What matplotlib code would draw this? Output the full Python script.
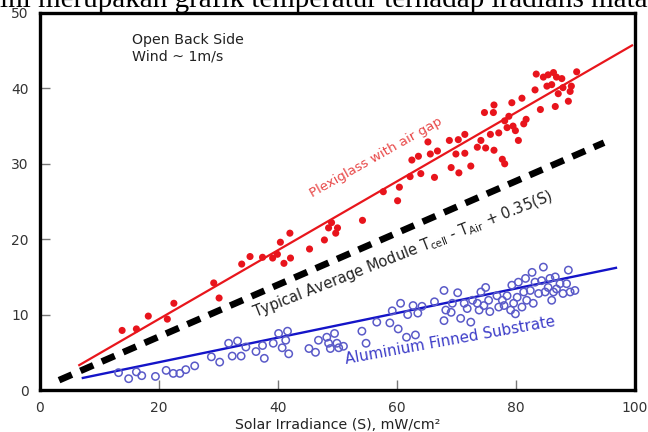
import matplotlib
matplotlib.use("Agg")
import matplotlib.pyplot as plt

plt.rcParams['font.family'] = ['DejaVu Sans']
plt.rcParams['mathtext.default'] = 'regular'

# plexiglass with air gap (filled red dots)
red_x = [13.8, 16.2, 18.2, 21.4, 22.5, 29.2, 30.1, 33.9, 35.3, 37.4,
         39.1, 39.9, 40.4, 41.0, 42.0, 42.1, 45.3, 47.8, 48.5, 49.0,
         49.7, 50.0, 54.2, 57.7, 60.1, 60.4, 62.2, 62.5, 63.6, 64.0,
         65.2, 65.6, 66.3, 66.8, 68.8, 69.1, 69.9, 70.3, 70.4, 71.4,
         71.4, 72.4, 73.5, 74.1, 74.7, 74.9, 75.7, 76.2, 76.3, 76.3,
         77.1, 77.7, 78.1, 78.1, 78.5, 78.8, 79.3, 79.5, 79.9, 80.4,
         81.0, 81.3, 81.7, 83.2, 83.4, 84.1, 84.6, 85.2, 85.4, 86.0,
         86.3, 86.6, 86.8, 87.1, 87.7, 87.9, 88.8, 89.1, 89.3, 90.2]
red_y = [7.9, 8.1, 9.8, 9.4, 11.5, 14.2, 12.2, 16.7, 17.7, 17.6,
         17.5, 18.0, 19.6, 16.8, 20.8, 17.5, 18.7, 19.9, 21.5, 22.2,
         20.8, 21.5, 22.5, 26.3, 25.1, 26.9, 28.3, 30.5, 31.0, 28.7,
         32.9, 31.3, 28.2, 31.7, 33.1, 29.5, 31.3, 33.2, 28.8, 33.9,
         31.4, 29.7, 32.2, 33.1, 36.8, 32.1, 33.9, 36.8, 37.8, 31.8,
         34.1, 30.6, 30.0, 35.7, 34.8, 36.3, 38.1, 35.0, 34.4, 33.1,
         38.7, 35.3, 35.9, 39.8, 41.9, 37.2, 41.5, 40.3, 41.8, 40.5,
         42.1, 37.6, 41.5, 39.3, 41.3, 40.1, 38.3, 39.6, 40.3, 42.2]

# aluminium finned substrate (open blue circles)
blue_x = [13.2, 14.9, 16.2, 17.1, 19.4, 21.2, 22.4, 23.5, 24.5, 26.0,
          28.8, 30.2, 31.7, 32.3, 33.2, 33.8, 34.6, 36.3, 37.4, 37.7,
          39.2, 40.1, 40.7, 41.3, 41.6, 41.8, 45.2, 46.3, 46.8, 48.2,
          48.5, 48.8, 49.5, 49.9, 50.2, 51.0, 54.1, 54.8, 56.6, 58.8,
          59.2, 60.2, 60.6, 61.6, 61.8, 62.7, 63.1, 63.5, 64.2, 66.3,
          67.9, 67.9, 68.2, 69.1, 69.3, 70.2, 70.7, 71.3, 71.8, 72.4,
          72.7, 73.5, 73.8, 74.1, 74.6, 74.9, 75.4, 75.6, 76.8, 77.1,
          77.7, 78.0, 78.5, 79.1, 79.3, 79.6, 79.9, 80.2, 80.4, 81.0,
          81.3, 81.6, 81.8, 82.4, 82.7, 82.9, 83.2, 83.8, 84.3, 84.6,
          84.9, 85.4, 85.7, 86.0, 86.3, 86.6, 86.8, 87.4, 87.9, 88.5,
          88.8, 89.1, 89.9]
blue_y = [2.3, 1.5, 2.4, 1.9, 1.8, 2.6, 2.2, 2.2, 2.7, 3.2,
          4.4, 3.7, 6.2, 4.5, 6.5, 4.5, 5.7, 5.1, 5.9, 4.2,
          6.2, 7.5, 5.6, 6.6, 7.8, 4.8, 5.5, 5.0, 6.6, 7.0,
          6.2, 5.5, 7.5, 6.2, 5.6, 5.8, 7.8, 6.2, 9.0, 8.9,
          10.5, 8.1, 11.5, 7.0, 10.0, 11.2, 7.3, 10.2, 11.1, 11.7,
          13.2, 9.2, 10.6, 10.3, 11.5, 12.9, 9.5, 11.5, 10.8, 9.0,
          11.9, 11.5, 10.6, 13.0, 11.2, 13.6, 11.9, 10.4, 12.5, 11.0,
          11.9, 11.2, 12.5, 10.6, 13.9, 11.5, 10.1, 12.3, 14.3, 11.0,
          13.0, 14.8, 11.9, 13.2, 15.6, 11.5, 14.3, 12.8, 14.5, 16.3,
          13.0, 13.6, 14.8, 11.9, 13.0, 15.0, 13.4, 14.1, 12.8, 14.1,
          15.9, 13.0, 13.2]

# fitted lines (end points)
red_fit_x = [6.6, 99.5]
red_fit_y = [3.3, 45.7]
typ_x = [3.2, 94.8]
typ_y = [1.3, 32.8]
blue_fit_x = [7.2, 96.8]
blue_fit_y = [1.6, 16.2]

xticks = [0, 20, 40, 60, 80, 100]
yticks = [0, 10, 20, 30, 40, 50]

fig = plt.figure(figsize=(6.48, 4.32), dpi=100)
ax = fig.add_axes([40 / 648, 42 / 432, 595 / 648, 377 / 432])

ax.plot(red_fit_x, red_fit_y, color='#e8161c', lw=1.6, zorder=3)
line, = ax.plot(typ_x, typ_y, color='black', lw=4.8, zorder=3,
                solid_capstyle='butt', dash_capstyle='butt')
line.set_dashes((2.1, 1.4))
ax.plot(blue_fit_x, blue_fit_y, color='#1414c8', lw=1.7, zorder=3)

ax.scatter(red_x, red_y, s=26, color='#e8141c', edgecolors='none', zorder=4)
ax.scatter(blue_x, blue_y, s=28, facecolors='none', edgecolors='#5a5ac8',
           linewidths=1.1, zorder=4)

ax.text(15.5, 47.4, "Open Back Side\nWind ~ 1m/s", fontsize=10.2, va='top',
        ha='left', color='#222222', linespacing=1.25)
ax.text(56.5, 30.8, "Plexiglass with air gap", fontsize=9.6, color='#e84848',
        rotation=29.5, ha='center', va='center', rotation_mode='anchor')
ax.text(61.0, 18.0, "Typical Average Module T$_{cell}$ - T$_{Air}$ + 0.35(S)",
        fontsize=10.5, color='#222222', rotation=21.5, ha='center',
        va='center', rotation_mode='anchor')
ax.text(69.0, 6.5, "Aluminium Finned Substrate", fontsize=10.8,
        color='#3c3cc8', rotation=10.3, ha='center', va='center',
        rotation_mode='anchor')

ax.set_xlim(0, 99.2)
ax.set_ylim(0, 49.8)
ax.set_xticks(xticks)
ax.set_yticks(yticks)
ax.tick_params(direction='in', length=7, width=1, color='#777777',
               labelcolor='#333333', labelsize=10)
ax.tick_params(axis='x', pad=8)
ax.tick_params(axis='y', pad=8)
for s in ax.spines.values():
    s.set_linewidth(2.4)
    s.set_color('black')
ax.set_xlabel("Solar Irradiance (S), mW/cm²", fontsize=10.2, color='#222222',
              labelpad=2)

# cut-off caption line from the source page
fig.text(0.0, 1 - 7 / 432, "ini merupakan grafik temperatur terhadap iradians matahari",
         family=['Liberation Serif', 'DejaVu Serif'], fontsize=21,
         va='baseline', ha='left', color='black')

fig.savefig("out.png", dpi=100)
